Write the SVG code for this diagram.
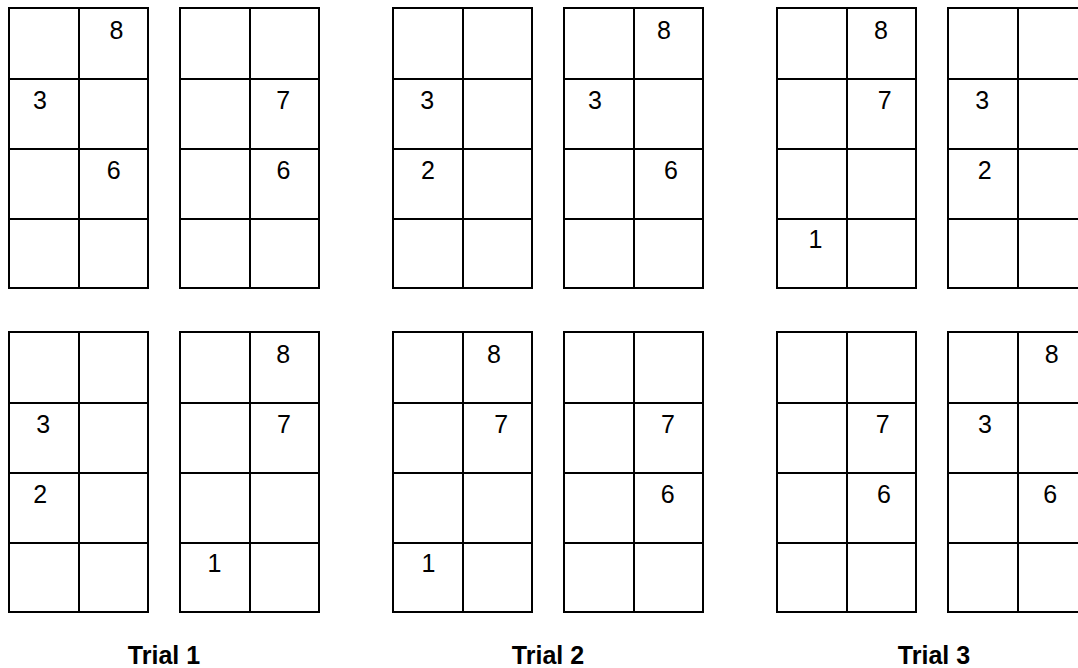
<svg xmlns="http://www.w3.org/2000/svg" xmlns:xlink="http://www.w3.org/1999/xlink" width="1078" height="668" viewBox="0 0 1078 668">
<style>
.cell{fill:none;stroke:#000;stroke-width:2}
.num{font-family:"Liberation Sans",Arial,sans-serif;font-size:25px;fill:#000;text-anchor:middle}
.lbl{font-family:"Liberation Sans",Arial,sans-serif;font-size:25px;font-weight:bold;fill:#000;text-anchor:middle}
</style>
<defs>
<g id="grid">
<rect class="cell" x="0" y="0" width="139" height="280"/>
<line class="cell" x1="70" y1="0" x2="70" y2="280"/>
<line class="cell" x1="0" y1="71" x2="139" y2="71"/>
<line class="cell" x1="0" y1="141" x2="139" y2="141"/>
<line class="cell" x1="0" y1="211" x2="139" y2="211"/>
</g>
</defs>
<rect width="1078" height="668" fill="#fff"/>
<g id="t1-top-a">
<use xlink:href="#grid" transform="translate(9,8)"/>
<text class="num" x="116.5" y="39">8</text>
<text class="num" x="40" y="108.5">3</text>
<text class="num" x="113.7" y="179">6</text>
</g>
<g id="t1-top-b">
<use xlink:href="#grid" transform="translate(180,8)"/>
<text class="num" x="283.3" y="108.5">7</text>
<text class="num" x="283.5" y="179">6</text>
</g>
<g id="t2-top-a">
<use xlink:href="#grid" transform="translate(393,8)"/>
<text class="num" x="427.3" y="108.5">3</text>
<text class="num" x="428" y="179">2</text>
</g>
<g id="t2-top-b">
<use xlink:href="#grid" transform="translate(564,8)"/>
<text class="num" x="664" y="39">8</text>
<text class="num" x="595" y="108.5">3</text>
<text class="num" x="671" y="179">6</text>
</g>
<g id="t3-top-a">
<use xlink:href="#grid" transform="translate(777,8)"/>
<text class="num" x="881" y="39">8</text>
<text class="num" x="884.7" y="108.5">7</text>
<text class="num" x="815.5" y="248.3">1</text>
</g>
<g id="t3-top-b">
<use xlink:href="#grid" transform="translate(948,8)"/>
<text class="num" x="982.3" y="108.5">3</text>
<text class="num" x="984.8" y="179">2</text>
</g>
<g id="t1-bot-a">
<use xlink:href="#grid" transform="translate(9,332)"/>
<text class="num" x="43.3" y="433.3">3</text>
<text class="num" x="40.3" y="503.3">2</text>
</g>
<g id="t1-bot-b">
<use xlink:href="#grid" transform="translate(180,332)"/>
<text class="num" x="283.3" y="363.3">8</text>
<text class="num" x="284" y="433.3">7</text>
<text class="num" x="214.5" y="572.3">1</text>
</g>
<g id="t2-bot-a">
<use xlink:href="#grid" transform="translate(393,332)"/>
<text class="num" x="494" y="363.3">8</text>
<text class="num" x="501.3" y="433.3">7</text>
<text class="num" x="428.5" y="572.3">1</text>
</g>
<g id="t2-bot-b">
<use xlink:href="#grid" transform="translate(564,332)"/>
<text class="num" x="668" y="433.3">7</text>
<text class="num" x="667.7" y="503.3">6</text>
</g>
<g id="t3-bot-a">
<use xlink:href="#grid" transform="translate(777,332)"/>
<text class="num" x="882.8" y="433.3">7</text>
<text class="num" x="884" y="503.3">6</text>
</g>
<g id="t3-bot-b">
<use xlink:href="#grid" transform="translate(948,332)"/>
<text class="num" x="1051.7" y="363.3">8</text>
<text class="num" x="985" y="433.3">3</text>
<text class="num" x="1050.3" y="503.3">6</text>
</g>
<g id="labels">
<text class="lbl" x="164" y="664">Trial 1</text>
<text class="lbl" x="548" y="663.5">Trial 2</text>
<text class="lbl" x="934" y="664">Trial 3</text>
</g>
<g id="connectors"/>
</svg>
